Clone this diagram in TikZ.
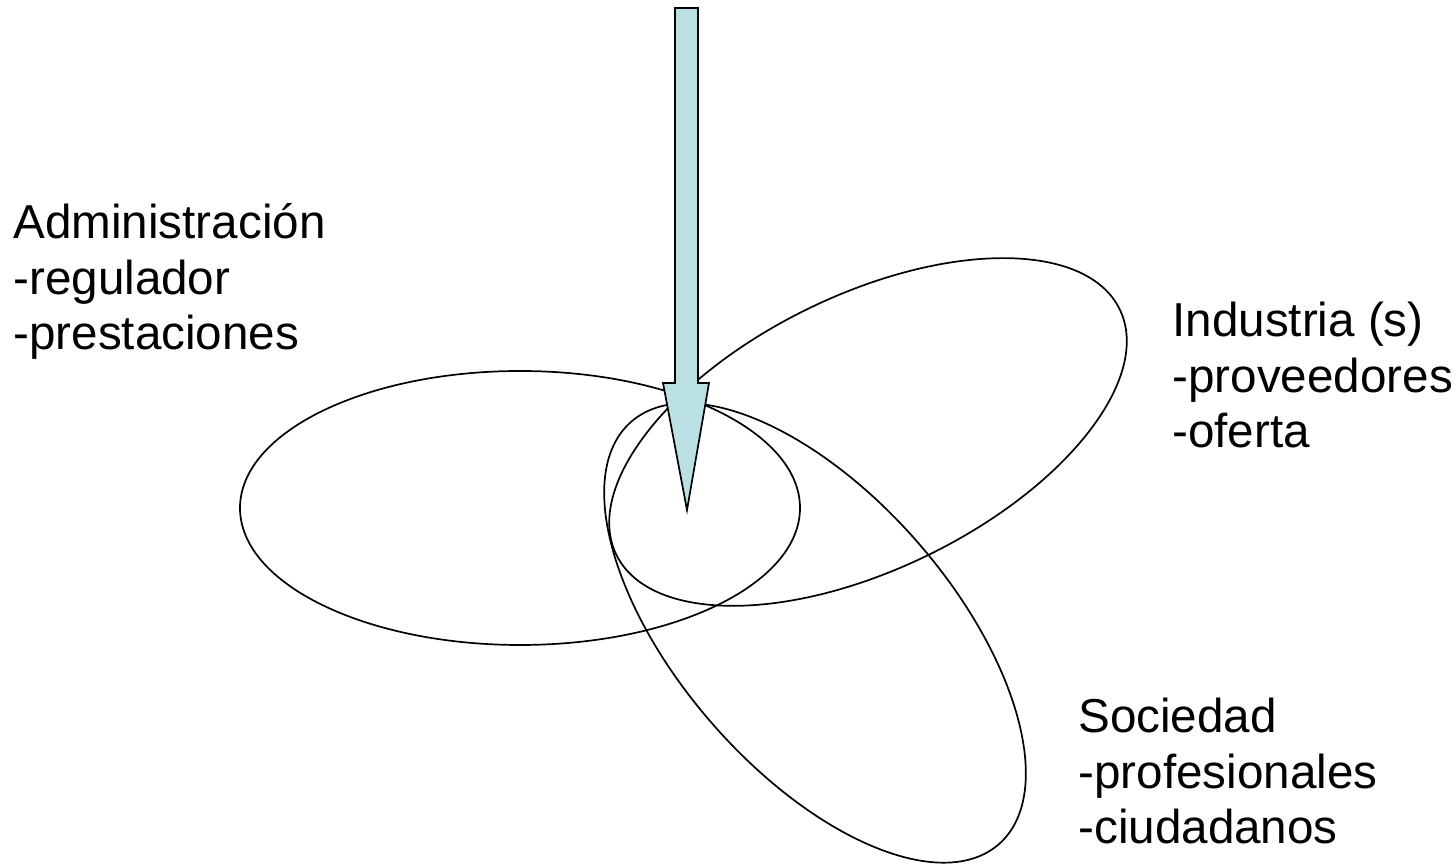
\documentclass[tikz,border=0pt]{standalone}
\usepackage{fontspec}
\setmainfont{Liberation Sans}
\usepackage{tikz}
\definecolor{arrowfill}{RGB}{187,224,227}

\begin{document}
\begin{tikzpicture}[x=0.5pt, y=0.5pt,
        ring/.style={draw=black, line width=0.85pt},
        sector/.style={anchor=base west, align=left, inner sep=0pt, font=\fontsize{23.8}{27.75}\selectfont}]
        \useasboundingbox (0,0) rectangle (1456,865);

        % Ellipses
        \draw[ring] (520,357) ellipse [x radius=280, y radius=137];
        \draw[ring, rotate around={26:(868,433)}] (868,433) ellipse [x radius=280, y radius=137];
        \draw[ring, rotate around={-49:(815,232)}] (815,232) ellipse [x radius=280, y radius=137];

        % Arrow
        \filldraw[fill=arrowfill, draw=black, line width=0.85pt, line join=miter]
            (675,857) -- (698,857) -- (698,482) -- (709,482) -- (687,355) -- (663,482) -- (675,482) -- cycle;

        % Labels (anchored on the last line)
        \node[sector] (admin) at (13,515) {Administración\\-regulador\\-prestaciones};
        \node[sector] (industria) at (1172,417) {Industria (s)\\-proveedores\\-oferta};
        \node[sector] (sociedad) at (1078,21) {Sociedad\\-profesionales\\-ciudadanos};
    \end{tikzpicture}
\end{document}
